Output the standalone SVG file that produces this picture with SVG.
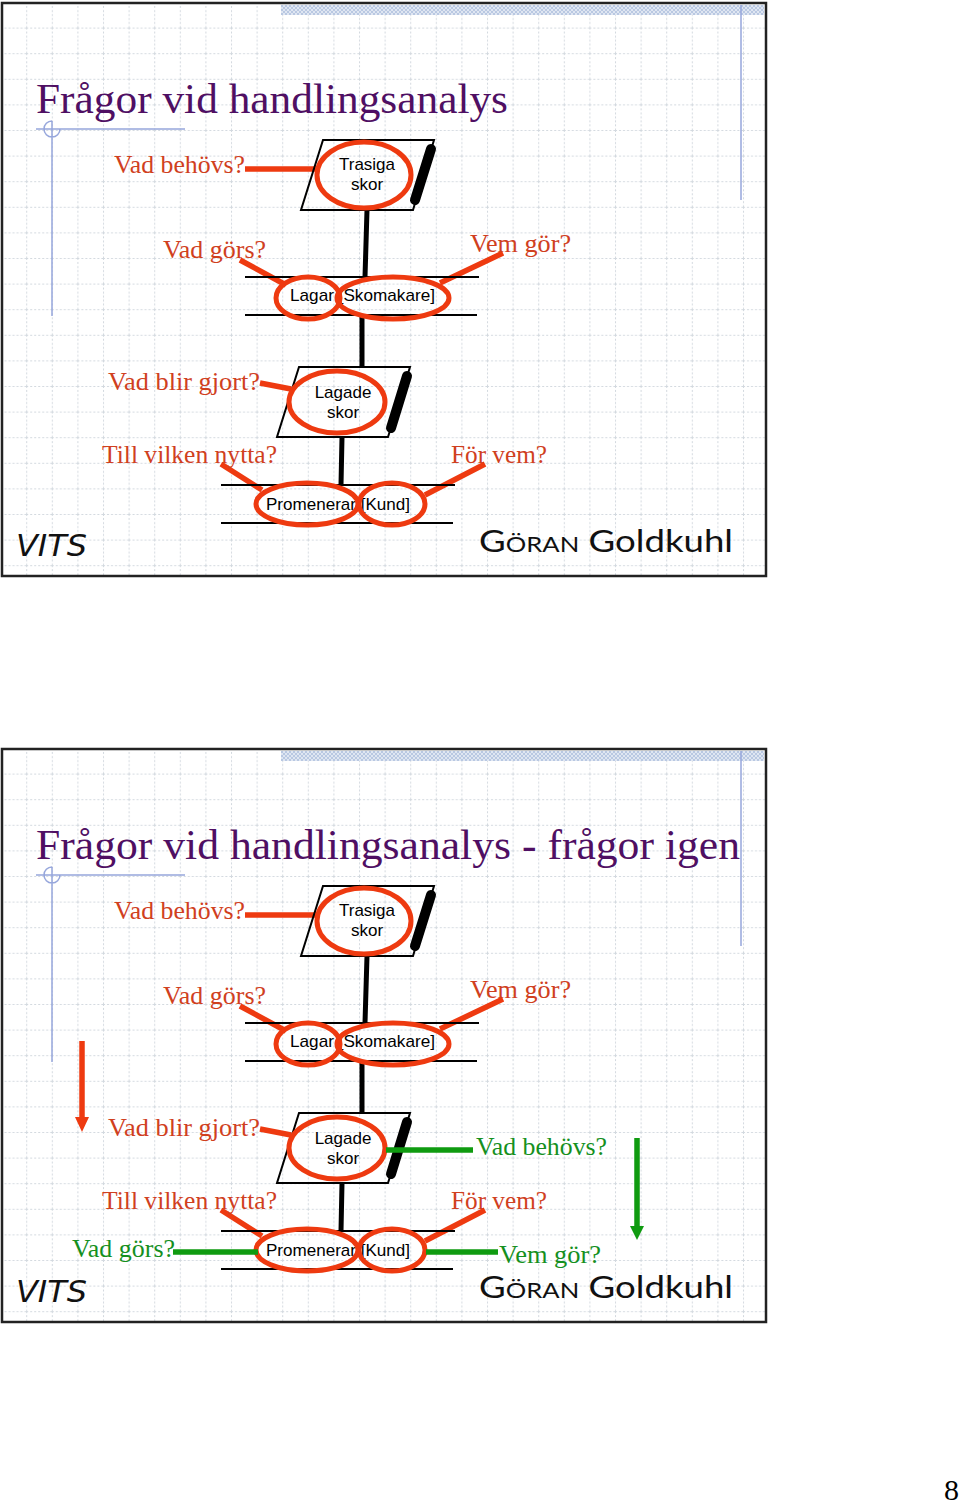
<svg xmlns="http://www.w3.org/2000/svg" width="960" height="1507" viewBox="0 0 960 1507">
<style>
.title{font-family:"Liberation Serif",serif;font-size:43px;fill:#4f0f63}
.q{font-family:"Liberation Serif",serif;font-size:26px;fill:#d0401e}
.g{font-family:"Liberation Serif",serif;font-size:26px;fill:#15901e}
.t{font-family:"Liberation Sans",sans-serif;font-size:17px;fill:#000}
.tc{text-anchor:middle}
.box{fill:none;stroke:#000;stroke-width:2}
.rule{stroke:#000;stroke-width:2;fill:none}
.stem{stroke:#000;stroke-width:5;fill:none}
.bar{stroke:#000;stroke-width:10;stroke-linecap:round;fill:none}
.oval{fill:none;stroke:#ee3a10;stroke-width:5}
.cr{stroke:#ee3a10;stroke-width:5.5;fill:none}
.cg{stroke:#0f9b10;stroke-width:5.5;fill:none}
.deco{stroke:#97a7dc;stroke-width:1.5;fill:none}
.frame{stroke:#222;stroke-width:2.5;fill:url(#grid)}
.vits{font-family:"DejaVu Sans",sans-serif;font-size:31px;fill:#111;font-style:italic}
.gg{font-family:"Lato",sans-serif;font-size:30px;fill:#111}
</style>
<defs>
<pattern id="grid" patternUnits="userSpaceOnUse" width="25.6" height="25.6" x="0.6" y="2">
<rect width="25.6" height="25.6" fill="#fff"/>
<path d="M0 .5H25.6M.5 0V25.6" stroke="#d3d9df" stroke-width="1" stroke-dasharray="2 2" fill="none"/>
</pattern>
<pattern id="hatch" patternUnits="userSpaceOnUse" width="4" height="4">
<rect width="4" height="4" fill="#dfe6f2"/>
<path d="M0 0L4 4M4 0L0 4" stroke="#b9c8e2" stroke-width="1"/>
</pattern>
</defs>

<g id="slide1">
<rect class="frame" x="2" y="3" width="764" height="573"/>
<rect x="281" y="5" width="483" height="10" fill="url(#hatch)"/>
<path class="deco" d="M741 5V200M36 129H185M52 121V316M52 121A8 8 0 1 0 60 129"/>
<text class="title" x="36" y="113" textLength="472" lengthAdjust="spacingAndGlyphs">Frågor vid handlingsanalys</text>
<g id="s1-connectors">
<path class="stem" d="M367 210L365 277M362 315V367M342 437L341 485"/>
<path class="cr" d="M245 169H317M240 260L286 285M503 253L440 283M260 383L291 389M221 464L262 490M485 464L425 495"/>
</g>
<g id="s1-need">
<polygon class="box" points="323,140 434,140 413,210 301,210"/>
<path class="bar" d="M431 149L415 200"/>
<text class="t tc" x="367" y="170">Trasiga</text><text class="t tc" x="367" y="190">skor</text>
<ellipse class="oval" cx="364" cy="175" rx="47" ry="33"/>
</g>
<g id="s1-act">
<path class="rule" d="M245 277H479M245 315H477"/>
<text class="t" x="290" y="301" textLength="145" lengthAdjust="spacingAndGlyphs">Lagar [Skomakare]</text>
<ellipse class="oval" cx="308" cy="298" rx="32" ry="21"/>
<ellipse class="oval" cx="393" cy="298" rx="56" ry="21"/>
</g>
<g id="s1-result">
<polygon class="box" points="299,367 410,367 388,437 277,437"/>
<path class="bar" d="M407 376L391 428"/>
<text class="t tc" x="343" y="398">Lagade</text><text class="t tc" x="343" y="418">skor</text>
<ellipse class="oval" cx="337" cy="402" rx="48" ry="31"/>
</g>
<g id="s1-use">
<path class="rule" d="M221 485H455M221 523H453"/>
<text class="t" x="266" y="510" textLength="144" lengthAdjust="spacingAndGlyphs">Promenerar [Kund]</text>
<ellipse class="oval" cx="307" cy="504" rx="51" ry="21"/>
<ellipse class="oval" cx="392" cy="504" rx="33" ry="21"/>
</g>
<g id="s1-labels">
<text class="q" x="114" y="173" textLength="131" lengthAdjust="spacingAndGlyphs">Vad behövs?</text>
<text class="q" x="163" y="258" textLength="103" lengthAdjust="spacingAndGlyphs">Vad görs?</text>
<text class="q" x="470" y="252" textLength="101" lengthAdjust="spacingAndGlyphs">Vem gör?</text>
<text class="q" x="108" y="390" textLength="152" lengthAdjust="spacingAndGlyphs">Vad blir gjort?</text>
<text class="q" x="102" y="463" textLength="175" lengthAdjust="spacingAndGlyphs">Till vilken nytta?</text>
<text class="q" x="451" y="463" textLength="96" lengthAdjust="spacingAndGlyphs">För vem?</text>
</g>
<text class="vits" x="16" y="556" textLength="71" lengthAdjust="spacingAndGlyphs">VITS</text>
<text class="gg" x="479" y="552" textLength="254" lengthAdjust="spacingAndGlyphs"><tspan style="font-variant:small-caps">Göran</tspan> Goldkuhl</text>
</g>

<g id="slide2" transform="translate(0,746)">
<rect class="frame" x="2" y="3" width="764" height="573"/>
<rect x="281" y="5" width="483" height="10" fill="url(#hatch)"/>
<path class="deco" d="M741 5V200M36 129H185M52 121V316M52 121A8 8 0 1 0 60 129"/>
<text class="title" x="36" y="113" textLength="704" lengthAdjust="spacingAndGlyphs">Frågor vid handlingsanalys - frågor igen</text>
<g id="s2-connectors">
<path class="stem" d="M367 210L365 277M362 315V367M342 437L341 485"/>
<path class="cr" d="M245 169H317M240 260L286 285M503 253L440 283M260 383L291 389M221 464L262 490M485 464L425 495"/>
</g>
<g id="s2-need">
<polygon class="box" points="323,140 434,140 413,210 301,210"/>
<path class="bar" d="M431 149L415 200"/>
<text class="t tc" x="367" y="170">Trasiga</text><text class="t tc" x="367" y="190">skor</text>
<ellipse class="oval" cx="364" cy="175" rx="47" ry="33"/>
</g>
<g id="s2-act">
<path class="rule" d="M245 277H479M245 315H477"/>
<text class="t" x="290" y="301" textLength="145" lengthAdjust="spacingAndGlyphs">Lagar [Skomakare]</text>
<ellipse class="oval" cx="308" cy="298" rx="32" ry="21"/>
<ellipse class="oval" cx="393" cy="298" rx="56" ry="21"/>
</g>
<g id="s2-result">
<polygon class="box" points="299,367 410,367 388,437 277,437"/>
<path class="bar" d="M407 376L391 428"/>
<text class="t tc" x="343" y="398">Lagade</text><text class="t tc" x="343" y="418">skor</text>
<ellipse class="oval" cx="337" cy="402" rx="48" ry="31"/>
</g>
<g id="s2-use">
<path class="rule" d="M221 485H455M221 523H453"/>
<text class="t" x="266" y="510" textLength="144" lengthAdjust="spacingAndGlyphs">Promenerar [Kund]</text>
<ellipse class="oval" cx="307" cy="504" rx="51" ry="21"/>
<ellipse class="oval" cx="392" cy="504" rx="33" ry="21"/>
</g>
<g id="s2-green-connectors">
<path class="cg" d="M386 404H473M173 506H258M426 506H498M637 392V482"/>
<polygon points="630,480 644,480 637,494" fill="#0f9b10"/>
<path class="cr" d="M82 295V373"/>
<polygon points="75,371 89,371 82,386" fill="#ee3a10"/>
</g>
<g id="s2-labels">
<text class="q" x="114" y="173" textLength="131" lengthAdjust="spacingAndGlyphs">Vad behövs?</text>
<text class="q" x="163" y="258" textLength="103" lengthAdjust="spacingAndGlyphs">Vad görs?</text>
<text class="q" x="470" y="252" textLength="101" lengthAdjust="spacingAndGlyphs">Vem gör?</text>
<text class="q" x="108" y="390" textLength="152" lengthAdjust="spacingAndGlyphs">Vad blir gjort?</text>
<text class="q" x="102" y="463" textLength="175" lengthAdjust="spacingAndGlyphs">Till vilken nytta?</text>
<text class="q" x="451" y="463" textLength="96" lengthAdjust="spacingAndGlyphs">För vem?</text>
<text class="g" x="476" y="409" textLength="131" lengthAdjust="spacingAndGlyphs">Vad behövs?</text>
<text class="g" x="72" y="511" textLength="103" lengthAdjust="spacingAndGlyphs">Vad görs?</text>
<text class="g" x="499" y="517" textLength="102" lengthAdjust="spacingAndGlyphs">Vem gör?</text>
</g>
<text class="vits" x="16" y="556" textLength="71" lengthAdjust="spacingAndGlyphs">VITS</text>
<text class="gg" x="479" y="552" textLength="254" lengthAdjust="spacingAndGlyphs"><tspan style="font-variant:small-caps">Göran</tspan> Goldkuhl</text>
</g>
<text x="944" y="1500" font-family="'Liberation Serif',serif" font-size="30" fill="#000">8</text>
</svg>
